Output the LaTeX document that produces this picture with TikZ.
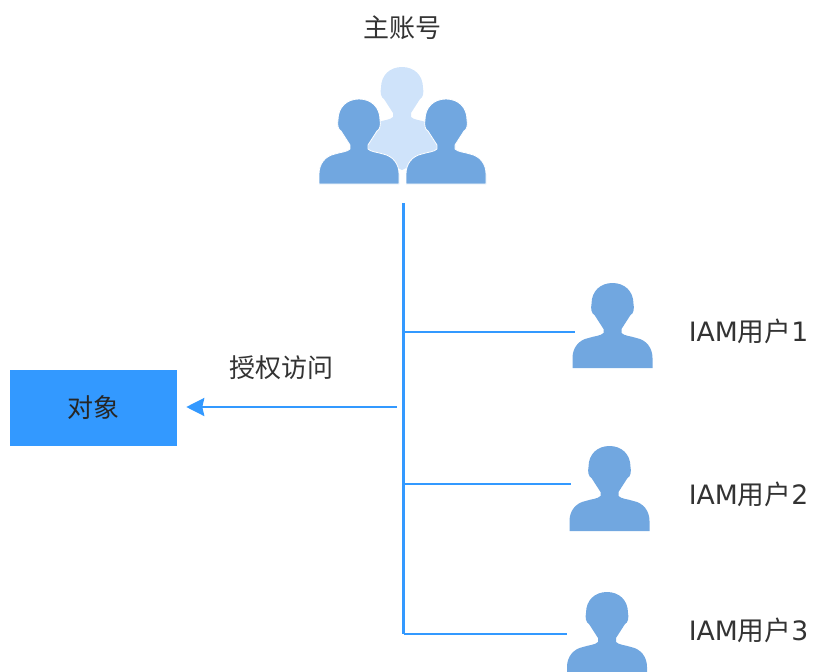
\documentclass[tikz,border=0pt]{standalone}
\usepackage{fontspec}
\usetikzlibrary{arrows.meta}
\setmainfont{DejaVu Sans}
\newfontfamily\cjk{Noto Sans CJK SC}
\definecolor{iconblue}{HTML}{71A7E0}
\definecolor{iconlight}{HTML}{CFE3FA}
\definecolor{linkblue}{HTML}{3399FF}
\definecolor{labelgrey}{HTML}{333333}
\def\personpath{
  (-40,0) -- (-40,-10) .. controls (-40,-20) and (-34,-28) .. (-24,-30)
  .. controls (-18,-32) and (-12,-32) .. (-9,-35) -- (-9,-39)
  -- (-18,-53)
  .. controls (-21,-54) and (-22,-60) .. (-21,-64)
  .. controls (-21,-77) and (-12,-85) .. (0,-85)
  .. controls (12,-85) and (21,-77) .. (21,-64)
  .. controls (22,-60) and (21,-54) .. (18,-53)
  -- (9,-39) -- (9,-35)
  .. controls (12,-32) and (18,-32) .. (24,-30)
  .. controls (34,-28) and (40,-20) .. (40,-10) -- (40,0) -- cycle}
\tikzset{
  x=0.75pt,y=-0.75pt,
  personicon/.pic={\fill[iconblue] \personpath;},
  frontperson/.pic={\fill[iconblue,draw=white,line width=0.6pt] \personpath;},
  backperson/.pic={\fill[iconlight] \personpath; \fill[iconlight] (-40,-1) -- (40,-1) -- (0,18) -- cycle;},
  label/.style={text=labelgrey,font=\fontsize{19.5pt}{22pt}\selectfont,inner sep=0pt},
  iamlabel/.style={label,font=\fontsize{20pt}{22pt}\selectfont},
  trunk/.style={draw=linkblue,line width=2.4pt},
  branch/.style={draw=linkblue,line width=2pt},
  objbox/.style={fill=linkblue,minimum width=125.25pt,minimum height=57pt,inner sep=0pt,text=black!85,font=\cjk\fontsize{19.5pt}{22pt}\selectfont},
  grant/.style={draw=linkblue,line width=1.8pt,-{Stealth[length=13.5pt,width=13.5pt,inset=1.5pt]},shorten >=6.75pt}
}
\begin{document}
\begin{tikzpicture}
\useasboundingbox (0,0) rectangle (813,671);
\clip (0,0) rectangle (813,671);
% icons
\path (402,152) pic {backperson};
\path (359,184) pic {frontperson};
\path (446,184) pic {frontperson};
\path (612.5,368) pic {personicon};
\path (609.5,531) pic {personicon};
\path (607,677) pic {personicon};
% labels
\node[label] (mainlabel) at (402,28) {\cjk 主账号};
\node[iamlabel] (u1label) at (748.5,331) {IAM\cjk 用户\normalfont 1};
\node[iamlabel] (u2label) at (748.5,494) {IAM\cjk 用户\normalfont 2};
\node[iamlabel] (u3label) at (748.5,630) {IAM\cjk 用户\normalfont 3};
\node[label] (grantlabel) at (281,368) {\cjk 授权访问};
\node[objbox] (object) at (93.5,408) {\raisebox{1.5pt}{对象}};
% connector ends
\coordinate (trunktop) at (403.5,203);
\coordinate (trunkbottom) at (403.5,634);
\coordinate (b1) at (403.5,332);
\coordinate (b2) at (403.5,484);
\coordinate (e1) at (575,332);
\coordinate (e2) at (571,484);
\coordinate (e3) at (567,634);
\coordinate (arrowstart) at (397,407);
\draw[trunk] (trunktop) -- (trunkbottom);
\draw[branch] (b1) -- (e1);
\draw[branch] (b2) -- (e2);
\draw[branch] (trunkbottom) -- (e3);
\draw[grant] (arrowstart) -- (arrowstart -| object.east);
\end{tikzpicture}
\end{document}
